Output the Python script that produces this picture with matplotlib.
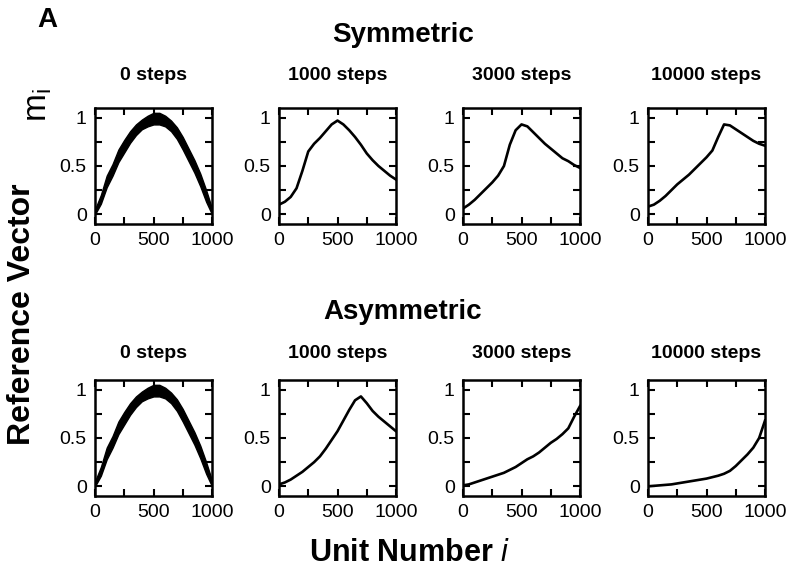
import numpy as np
import matplotlib
matplotlib.use("Agg")
import matplotlib.pyplot as plt
from matplotlib.ticker import MultipleLocator

plt.rcParams['font.family'] = ['Liberation Sans', 'DejaVu Sans']
plt.rcParams['mathtext.fontset'] = 'custom'
plt.rcParams['mathtext.rm'] = 'Liberation Sans'
plt.rcParams['mathtext.it'] = 'Liberation Sans:italic'

units = [0, 50, 100, 150, 200, 250, 300, 350, 400, 450, 500,
         550, 600, 650, 700, 750, 800, 850, 900, 950, 1000]

step_labels = ["0 steps", "1000 steps", "3000 steps", "10000 steps"]

# 0 steps: noisy band (lower / upper edge)
init_low = [0.00, 0.11, 0.28, 0.40, 0.54, 0.64, 0.74, 0.82, 0.88, 0.91, 0.93,
            0.93, 0.91, 0.86, 0.78, 0.67, 0.55, 0.43, 0.29, 0.13, 0.00]
init_high = [0.05, 0.20, 0.40, 0.52, 0.67, 0.77, 0.86, 0.93, 0.98, 1.02, 1.05,
             1.05, 1.02, 0.97, 0.90, 0.80, 0.68, 0.56, 0.42, 0.25, 0.06]

# symmetric
sym_1000 = [0.10, 0.13, 0.18, 0.27, 0.45, 0.65, 0.73, 0.79, 0.86, 0.93, 0.97,
            0.93, 0.87, 0.80, 0.72, 0.63, 0.56, 0.50, 0.45, 0.40, 0.36]
sym_3000 = [0.06, 0.10, 0.15, 0.21, 0.27, 0.33, 0.40, 0.50, 0.72, 0.87, 0.93,
            0.91, 0.85, 0.79, 0.73, 0.68, 0.63, 0.58, 0.55, 0.51, 0.48]
sym_10000 = [0.08, 0.10, 0.14, 0.19, 0.25, 0.31, 0.36, 0.41, 0.47, 0.53, 0.59,
             0.66, 0.80, 0.93, 0.92, 0.88, 0.84, 0.80, 0.76, 0.73, 0.71]

# asymmetric
asym_1000 = [0.02, 0.04, 0.07, 0.11, 0.15, 0.20, 0.25, 0.31, 0.39, 0.48, 0.57,
             0.68, 0.79, 0.89, 0.93, 0.86, 0.78, 0.72, 0.67, 0.62, 0.57]
asym_3000 = [0.01, 0.02, 0.04, 0.06, 0.08, 0.10, 0.12, 0.14, 0.17, 0.20, 0.24,
             0.28, 0.31, 0.35, 0.40, 0.45, 0.49, 0.54, 0.60, 0.72, 0.83]
asym_10000 = [0.00, 0.005, 0.01, 0.015, 0.02, 0.03, 0.04, 0.05, 0.06, 0.07, 0.08,
              0.095, 0.11, 0.13, 0.16, 0.21, 0.27, 0.33, 0.40, 0.50, 0.68]

rows = [[None, sym_1000, sym_3000, sym_10000],
        [None, asym_1000, asym_3000, asym_10000]]

fig = plt.figure(figsize=(7.91, 5.74), dpi=100)

lefts = [95, 279, 463, 648]
bottoms = [224, 496]
W, H = 791.0, 574.0
aw, ah = 117, 116

for r in range(2):
    for c in range(4):
        ax = fig.add_axes([lefts[c] / W, 1 - bottoms[r] / H, aw / W, ah / H])
        if c == 0:
            ax.fill_between(units, init_low, init_high, color="black", lw=1)
        else:
            ax.plot(units, rows[r][c], color="black", lw=1.9)
        ax.set_xlim(0, 1000)
        ax.set_ylim(-0.1, 1.1)
        ax.set_xticks([0, 500, 1000])
        ax.set_yticks([0, 0.5, 1])
        ax.set_yticklabels(["0", "0.5", "1"])
        ax.xaxis.set_minor_locator(MultipleLocator(250))
        ax.yaxis.set_minor_locator(MultipleLocator(0.25))
        ax.tick_params(which="both", direction="in", top=True, right=True,
                       length=5, width=1.5)
        ax.tick_params(which="major", labelsize=14, pad=6)
        for s in ax.spines.values():
            s.set_linewidth(1.8)
        cx = (lefts[c] + aw / 2) / W
        ty = [76, 353][r]
        fig.text(cx, 1 - ty / H, step_labels[c], ha="center", va="center",
                 fontsize=14, fontweight="bold")

fig.text(403 / W, 1 - 35 / H, "Symmetric", ha="center", va="center",
         fontsize=20, fontweight="bold")
fig.text(403 / W, 1 - 312 / H, "Asymmetric", ha="center", va="center",
         fontsize=20, fontweight="bold")
fig.text(47 / W, 1 - 20 / H, "A", ha="center", va="center",
         fontsize=20, fontweight="bold")
fig.text(22 / W, 1 - 314 / H, "Reference Vector", rotation=90,
         ha="center", va="center", fontsize=23, fontweight="bold")
fig.text(38 / W, 1 - 105 / H, r"$\mathregular{m_i}$", rotation=90,
         ha="center", va="center", fontsize=24)
fig.text(409 / W, 1 - 553 / H, r"Unit Number $\mathit{i}$", ha="center",
         va="center", fontsize=22, fontweight="bold")

fig.savefig("out.png", dpi=100)
